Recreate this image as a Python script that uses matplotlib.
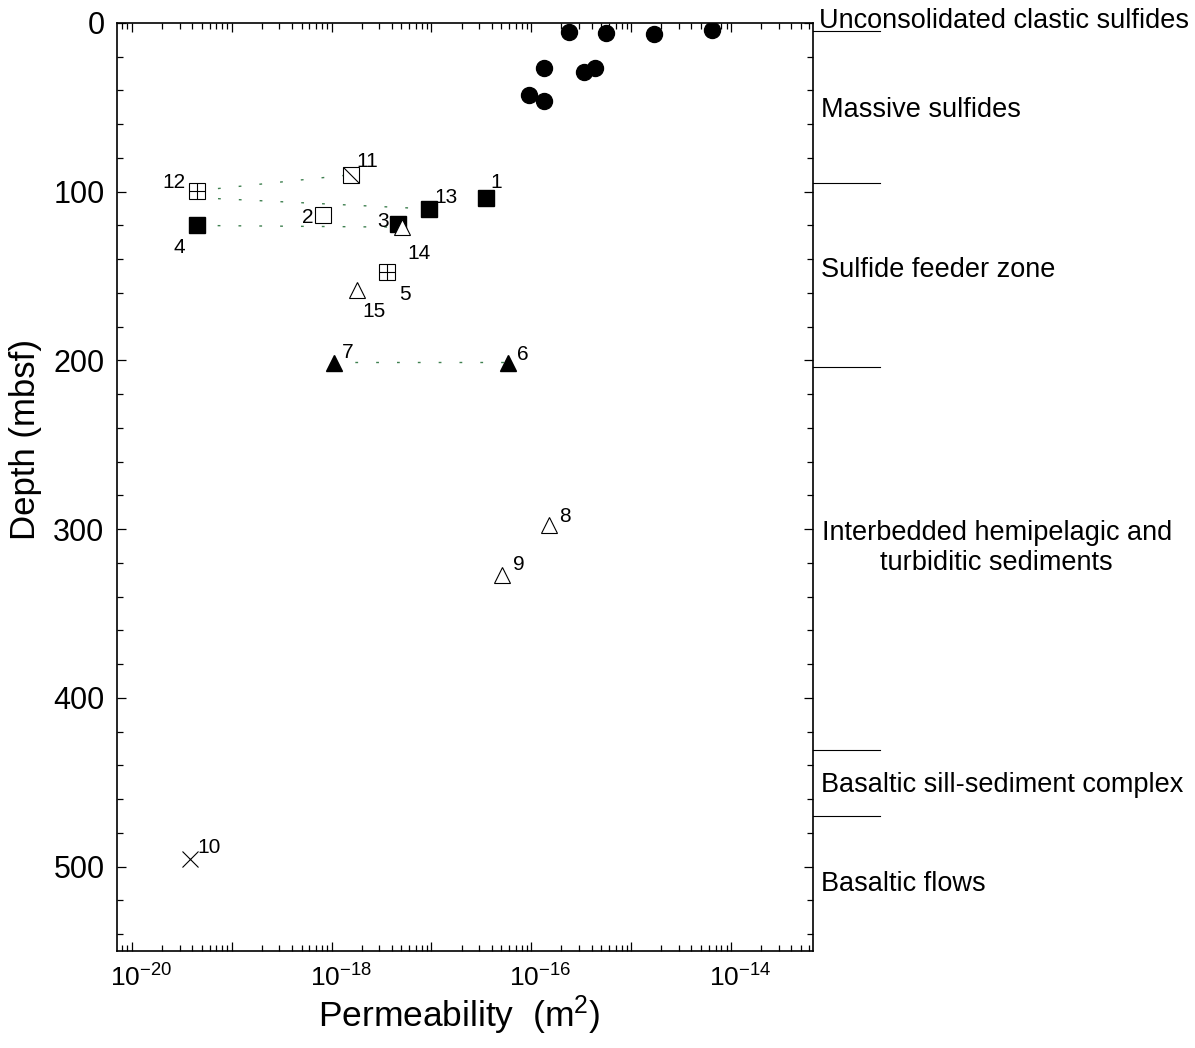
import matplotlib
matplotlib.use('Agg')
import matplotlib.pyplot as plt
import matplotlib.transforms as mtransforms
from matplotlib.path import Path
from matplotlib.ticker import FixedLocator, FuncFormatter, MultipleLocator, NullFormatter
import numpy as np

plt.rcParams['font.family'] = ['Liberation Sans', 'DejaVu Sans']
plt.rcParams['mathtext.fontset'] = 'custom'
plt.rcParams['mathtext.rm'] = 'Liberation Sans'
plt.rcParams['mathtext.it'] = 'Liberation Sans:italic'

# massive sulfide samples (filled circles)
sulf_perm = [2.38e-16, 5.55e-16, 1.69e-15, 6.37e-15, 1.34e-16, 3.37e-16, 4.34e-16, 9.48e-17, 1.34e-16]
sulf_depth = [5.3, 5.9, 6.5, 4.4, 26.7, 29.3, 26.7, 42.5, 46.0]

# numbered samples
sample_id = [1, 2, 3, 4, 5, 6, 7, 8, 9, 10, 11, 12, 13, 14, 15]
sample_perm = [3.50e-17, 8.26e-19, 4.57e-18, 4.47e-20, 3.55e-18, 5.85e-17, 1.06e-18,
               1.50e-16, 5.06e-17, 3.78e-20, 1.58e-18, 4.51e-20, 9.48e-18, 5.01e-18, 1.78e-18]
sample_depth = [103.7, 113.6, 118.9, 120.0, 147.7, 201.4, 201.8,
                297.8, 327.4, 495.7, 89.9, 99.4, 110.2, 121.0, 158.0]
sample_kind = ['fsq', 'osq', 'fsq', 'fsq', 'psq', 'ftri', 'ftri',
               'otri', 'otri', 'x', 'dsq', 'psq', 'fsq', 'otri', 'otri']

# dotted connectors (start perm, start depth, end perm, end depth)
conn_perm0 = [4.51e-20, 4.51e-20, 4.47e-20, 1.06e-18]
conn_depth0 = [99.4, 103.5, 120.0, 201.0]
conn_perm1 = [1.58e-18, 9.48e-18, 5.01e-18, 5.85e-17]
conn_depth1 = [89.9, 110.2, 121.0, 201.0]

# lithologic units on the right
unit_bounds = [5, 95, 203.6, 431, 470]
unit_names = ['Unconsolidated clastic sulfides', 'Massive sulfides', 'Sulfide feeder zone',
              'Interbedded hemipelagic and\nturbiditic sediments',
              'Basaltic sill-sediment complex', 'Basaltic flows']
unit_label_depth = [2.8, 55.5, 150.3, 311.0, 456.0, 514.5]

# decades shown on the permeability axis
decade_exp = [-20, -19, -18, -17, -16, -15, -14]

# label offsets in pixels (dx right, dy down) from marker centre
label_off = {1: (10, -15), 2: (-16, 3), 3: (-14, -2), 4: (-17, 22), 5: (18, 22),
             6: (15, -8), 7: (14, -11), 8: (16, -9), 9: (17, -11), 10: (20, -12),
             11: (16, -13), 12: (-23, -8), 13: (17, -11), 14: (17, 26), 15: (17, 22)}

fig = plt.figure(figsize=(11.95, 10.48), dpi=100)
ax = fig.add_axes([117 / 1195, 1 - 951 / 1048, 696 / 1195, 928 / 1048])

ms = 11.5
diag = Path([(-1, 1), (1, -1)], [Path.MOVETO, Path.LINETO])

for k0, d0, k1, d1 in zip(conn_perm0, conn_depth0, conn_perm1, conn_depth1):
    ax.plot([k0, k1], [d0, d1], color='#3f8050', lw=1.0, ls=(0, (2, 13)), zorder=1)

ax.plot(sulf_perm, sulf_depth, 'o', ms=ms, mfc='k', mec='k', zorder=3)

for sid, k, d, kind in zip(sample_id, sample_perm, sample_depth, sample_kind):
    if kind == 'fsq':
        ax.plot(k, d, 's', ms=ms, mfc='k', mec='k', zorder=3)
    elif kind == 'osq':
        ax.plot(k, d, 's', ms=ms - 0.5, mfc='white', mec='k', mew=0.8, zorder=3)
    elif kind == 'psq':
        ax.plot(k, d, 's', ms=ms - 0.5, mfc='white', mec='k', mew=0.8, zorder=3)
        ax.plot(k, d, '+', ms=ms - 0.5, mec='k', mew=0.8, zorder=4)
    elif kind == 'dsq':
        ax.plot(k, d, 's', ms=ms - 0.5, mfc='white', mec='k', mew=0.8, zorder=3)
        ax.plot(k, d, marker=diag, ms=ms - 0.5, mec='k', mew=0.8, ls='none', zorder=4)
    elif kind == 'ftri':
        ax.plot(k, d, '^', ms=ms, mfc='k', mec='k', zorder=3)
    elif kind == 'otri':
        ax.plot(k, d, '^', ms=ms, mfc='white', mec='k', mew=0.8, zorder=3)
    elif kind == 'x':
        ax.plot(k, d, 'x', ms=ms, mec='k', mew=0.8, zorder=3)
    dx, dy = label_off[sid]
    ax.annotate(str(sid), (k, d), xytext=(dx * 0.72, -dy * 0.72), textcoords='offset points',
                ha='center', va='center', fontsize=15, zorder=5)

ax.set_xscale('log')
ax.set_xlim(7.1e-21, 6.6e-14)
ax.set_ylim(550, 0)

majors = [10.0 ** e for e in decade_exp]
minors = [m * 10.0 ** e for e in [-21] + decade_exp for m in range(2, 10)]
minors = [v for v in minors if 7.1e-21 <= v <= 6.6e-14]
ax.xaxis.set_major_locator(FixedLocator(majors))
ax.xaxis.set_minor_locator(FixedLocator(minors))
ax.xaxis.set_minor_formatter(NullFormatter())


def even_decades(val, pos):
    e = int(round(np.log10(val)))
    if e % 2 == 0:
        return r'$\mathregular{10^{%d}}$' % e
    return ''


ax.xaxis.set_major_formatter(FuncFormatter(even_decades))
ax.yaxis.set_major_locator(MultipleLocator(100))
ax.yaxis.set_minor_locator(MultipleLocator(20))

ax.tick_params(which='both', direction='in', top=True, right=True, width=0.9)
ax.tick_params(which='major', length=6.5)
ax.tick_params(which='minor', length=4)
ax.tick_params(axis='x', which='major', pad=10, labelsize=19)
ax.tick_params(axis='y', which='major', pad=9, labelsize=22)
for sp in ax.spines.values():
    sp.set_linewidth(1.2)

# reference tick labels sit a bit right of their ticks
shift = mtransforms.ScaledTranslation(9 / 100, 0, fig.dpi_scale_trans)
for lbl in ax.get_xticklabels():
    lbl.set_transform(lbl.get_transform() + shift)

ax.set_xlabel(r'Permeability  (m$^2$)', fontsize=25.5)
ax.set_ylabel('Depth (mbsf)', fontsize=25)
ax.xaxis.set_label_coords(0.491, -0.046)
ax.yaxis.set_label_coords(-0.108, 0.551)

trans = mtransforms.blended_transform_factory(ax.transAxes, ax.transData)
for b in unit_bounds:
    ax.plot([1.0, 1.096], [b, b], color='k', lw=0.8, transform=trans, clip_on=False)

for name, d in zip(unit_names, unit_label_depth):
    if '\n' in name:
        ax.text(1.264, d, name, transform=trans, ha='center', va='center',
                multialignment='center', fontsize=19.5, linespacing=1.2)
    elif name.startswith('Uncons'):
        ax.text(1.008, d, name, transform=trans, ha='left', va='baseline', fontsize=19.5)
    else:
        ax.text(1.0115, d, name, transform=trans, ha='left', va='baseline', fontsize=19.5)

fig.savefig('out.png', dpi=100)
